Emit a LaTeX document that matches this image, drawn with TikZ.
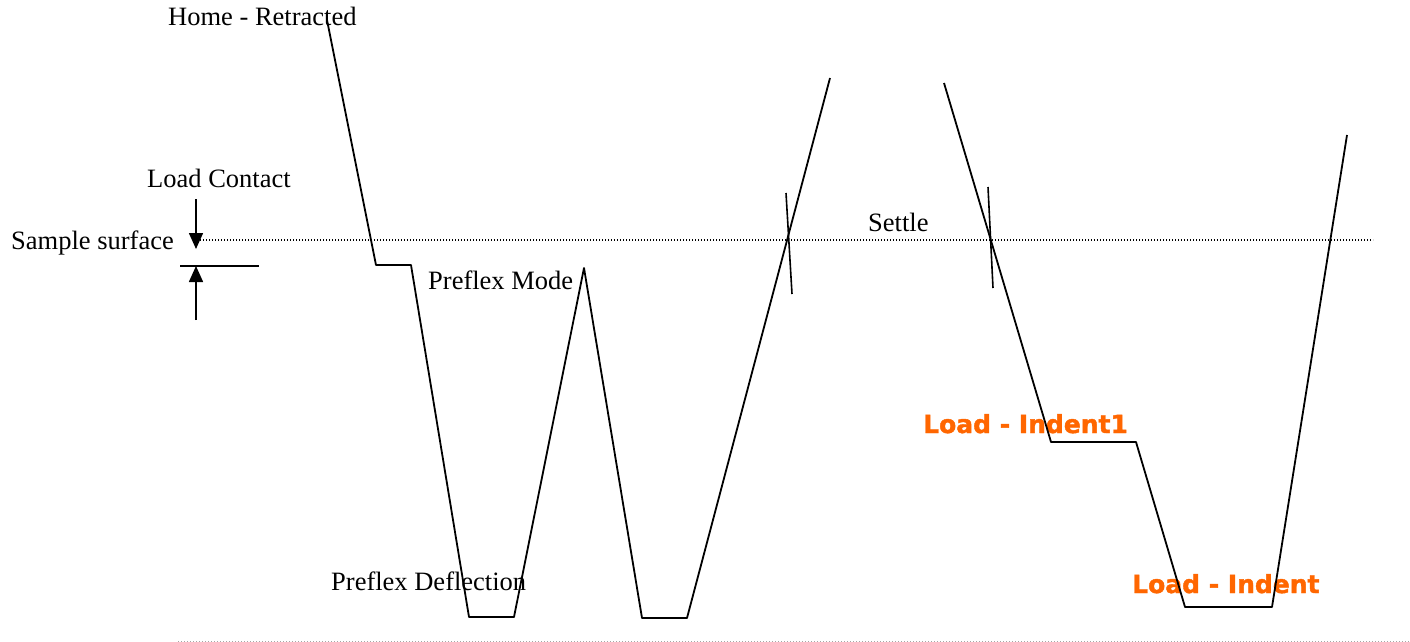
\documentclass[tikz,border=0pt]{standalone}
\usepackage{fontspec}
\setmainfont{Liberation Serif}
\newfontfamily\orangefont{DejaVu Sans}[BoldFeatures={FakeBold=1.6}]
\usetikzlibrary{arrows.meta}
\definecolor{labelorange}{HTML}{FF6600}
\tikzset{
  lbl/.style={inner sep=0pt, anchor=base west, font=\fontsize{26.5}{30}\selectfont},
  olbl/.style={inner sep=0pt, anchor=base west, text=labelorange, font=\orangefont\bfseries\fontsize{25}{30}\selectfont},
  curve/.style={line width=1.8pt, line join=round},
  tick/.style={line width=1.6pt},
  surface/.style={line width=1.4pt, dash pattern=on 1.4pt off 1.6pt},
  baseline/.style={line width=1pt, gray!70, dash pattern=on 1pt off 2pt},
  dimarrow/.style={line width=1.6pt, -{Triangle[length=16pt,width=14pt]}}
}
\begin{document}
\begin{tikzpicture}[x=1pt,y=-1pt]
\useasboundingbox (0,0) rectangle (1410,642);
% labels
\node[lbl] (home) at (168,26) {Home - Retracted};
\node[lbl] (contact) at (147,187) {Load Contact};
\node[lbl] (sample) at (11,249) {Sample surface};
\node[lbl] (mode) at (428,289) {Preflex Mode};
\node[lbl] (settle) at (868,231) {Settle};
\node[lbl] (defl) at (331,590) {Preflex Deflection};
\node[olbl] (ind1) at (923,433) {Load - Indent1};
\node[olbl] (ind) at (1132,593) {Load - Indent};
% coordinates
\coordinate (s0) at (200,240);
\coordinate (s1) at (1373,240);
\coordinate (b0) at (178,641);
\coordinate (b1) at (1410,641);
\coordinate (a0) at (196,199);
\coordinate (a1) at (196,249);
\coordinate (c0) at (196,320);
\coordinate (c1) at (196,266);
\coordinate (h0) at (180,266);
\coordinate (h1) at (259,266);
\coordinate (p1) at (327,20);
\coordinate (p2) at (376,265);
\coordinate (p3) at (411,265);
\coordinate (p4) at (469,617);
\coordinate (p5) at (514,617);
\coordinate (p6) at (584,268);
\coordinate (p7) at (642,618);
\coordinate (p8) at (687,618);
\coordinate (p9) at (830,78);
\coordinate (q1) at (944,83);
\coordinate (q2) at (1051,442);
\coordinate (q3) at (1136,442);
\coordinate (q4) at (1185,607);
\coordinate (q5) at (1272,607);
\coordinate (q6) at (1347,135);
\coordinate (t1a) at (786,193);
\coordinate (t1b) at (792,294);
\coordinate (t2a) at (988,187);
\coordinate (t2b) at (993,288);
% surfaces
\draw[surface] (s0) -- (s1);
\draw[baseline] (b0) -- (b1);
% dimension
\draw[dimarrow] (a0) -- (a1);
\draw[dimarrow] (c0) -- (c1);
\draw[line width=1.8pt] (h0) -- (h1);
% curves
\draw[curve] (p1) -- (p2) -- (p3) -- (p4) -- (p5) -- (p6) -- (p7) -- (p8) -- (p9);
\draw[curve] (q1) -- (q2) -- (q3) -- (q4) -- (q5) -- (q6);
\draw[tick] (t1a) -- (t1b);
\draw[tick] (t2a) -- (t2b);
\end{tikzpicture}
\end{document}
